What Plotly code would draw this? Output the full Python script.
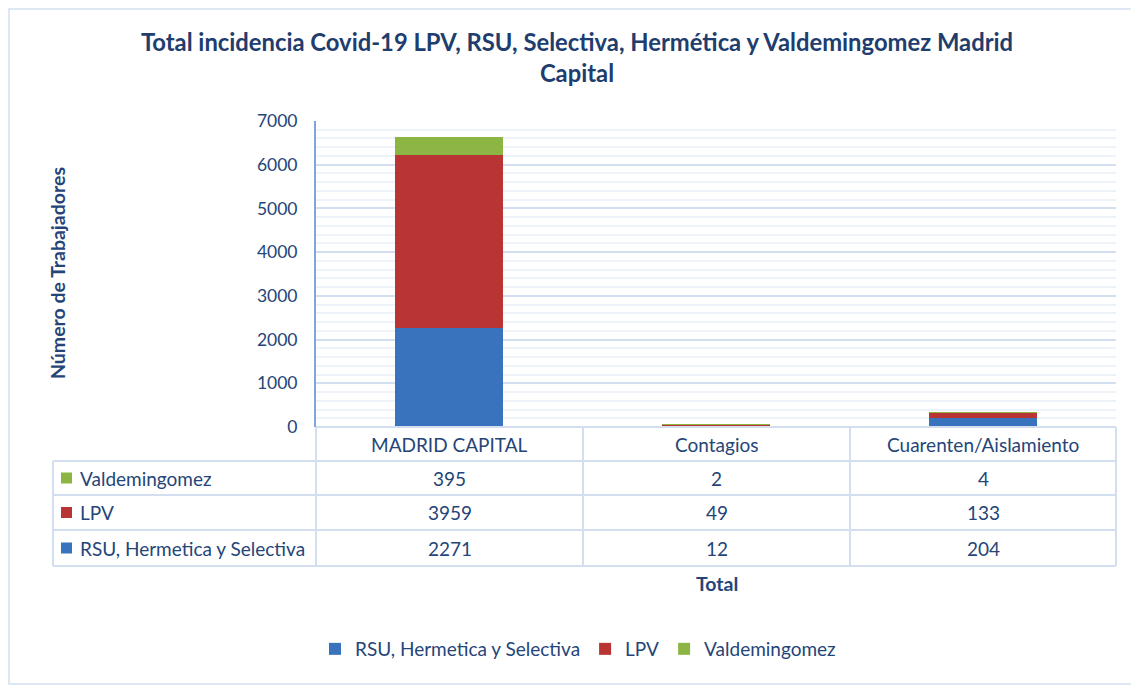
import plotly.graph_objects as go

categories = ["MADRID CAPITAL", "Contagios", "Cuarenten/Aislamiento"]
series_names = ["RSU, Hermetica y Selectiva", "LPV", "Valdemingomez"]
rsu = [2271, 12, 204]
lpv = [3959, 49, 133]
valdemingomez = [395, 2, 4]
y_ticks = [0, 1000, 2000, 3000, 4000, 5000, 6000, 7000]

colors = ["#3A73BD", "#B93533", "#8DB544"]
text_col = "#254578"
line_col = "#D3DFF1"
FONT = "Lato"

W, H = 1139, 688
OFF = 8  # page body margin of the html page
L, R, T, B = 316, 1116, 121, 427  # plot area in screenshot pixels


def px(x):
    return (x - L) / (R - L)


def py(y):
    return (B - y) / (B - T)


def label(x, y, text, xanchor="center", size=19, **kw):
    return dict(x=px(x), y=py(y), xref="paper", yref="paper", text=text,
                xanchor=xanchor, yanchor="middle", showarrow=False,
                font=dict(size=size, color=text_col, family=FONT), **kw)


fig = go.Figure()
for name, vals, c in zip(series_names, [rsu, lpv, valdemingomez], colors):
    fig.add_trace(go.Bar(x=categories, y=vals, name=name, marker_color=c,
                         marker_line_width=0, width=0.405))

shapes = []
annotations = []

# outer chart border
shapes.append(dict(type="rect", xref="paper", yref="paper", x0=px(OFF + 1), x1=px(1135),
                   y0=py(OFF + 1), y1=py(684), line=dict(color=line_col, width=1.5)))

# data table grid
row_lines = [461, 495, 530, 566]
col_lines = [316, 583, 850, 1116]
shapes.append(dict(type="line", xref="paper", yref="paper", x0=px(316), x1=px(1116),
                   y0=py(427), y1=py(427), line=dict(color=line_col, width=2)))
for yy in row_lines:
    shapes.append(dict(type="line", xref="paper", yref="paper", x0=px(53), x1=px(1116),
                       y0=py(yy), y1=py(yy), line=dict(color=line_col, width=2)))
for xx in col_lines:
    shapes.append(dict(type="line", xref="paper", yref="paper", x0=px(xx), x1=px(xx),
                       y0=py(427), y1=py(566), line=dict(color=line_col, width=2)))
shapes.append(dict(type="line", xref="paper", yref="paper", x0=px(53), x1=px(53),
                   y0=py(461), y1=py(566), line=dict(color=line_col, width=2)))

# header row (categories)
for i, cat in enumerate(categories):
    cx = (col_lines[i] + col_lines[i + 1]) / 2
    annotations.append(label(cx, 444, cat))

# table rows: top row is last series
rows = [(series_names[2], valdemingomez, colors[2]),
        (series_names[1], lpv, colors[1]),
        (series_names[0], rsu, colors[0])]
for r, (name, vals, c) in enumerate(rows):
    yc = (row_lines[r] + row_lines[r + 1]) / 2
    shapes.append(dict(type="rect", xref="paper", yref="paper", x0=px(61), x1=px(72),
                       y0=py(yc - 5.5), y1=py(yc + 5.5), fillcolor=c, line=dict(width=0)))
    annotations.append(label(78, yc, name, xanchor="left"))
    for i, v in enumerate(vals):
        cx = (col_lines[i] + col_lines[i + 1]) / 2
        annotations.append(label(cx, yc, str(v)))

# axis titles
annotations.append(label(57, 273, "<b>Número de Trabajadores</b>", size=19.5, textangle=-90))
annotations.append(label(717, 583, "<b>Total</b>", size=19.5))

fig.update_layout(
    width=W, height=H,
    margin=dict(l=L - OFF, r=W - (R - OFF), t=T - OFF, b=H - (B - OFF), pad=0,
                autoexpand=False),
    paper_bgcolor="white", plot_bgcolor="white",
    barmode="stack",
    title=dict(text="<b>Total incidencia Covid-19 LPV, RSU, Selectiva, Hermética y Valdemingomez Madrid<br>Capital</b>",
               xref="paper", x=px(577), xanchor="center",
               yref="container", y=1 - (51 - OFF) / H, yanchor="middle",
               font=dict(size=23.8, color="#203D6E", family=FONT)),
    font=dict(family=FONT, color=text_col),
    showlegend=True,
    legend=dict(orientation="h", x=px(578), xanchor="center", y=py(649), yanchor="middle",
                font=dict(size=19, color=text_col, family=FONT), traceorder="normal",
                itemclick=False),
    shapes=shapes, annotations=annotations,
)
fig.update_xaxes(showticklabels=False, showgrid=False, showline=False, zeroline=False,
                 ticks="")
fig.update_yaxes(range=[0, 7000], tickvals=y_ticks, showgrid=True, gridcolor=line_col,
                 gridwidth=1.5, zeroline=False, showline=True, linecolor="#7FA6DA",
                 linewidth=2, ticks="", ticklabelstandoff=13,
                 tickfont=dict(size=17.5, color=text_col, family=FONT),
                 minor=dict(dtick=200, showgrid=True, gridcolor="#EEF3FA", gridwidth=1.5))

fig.write_html("out.html")
